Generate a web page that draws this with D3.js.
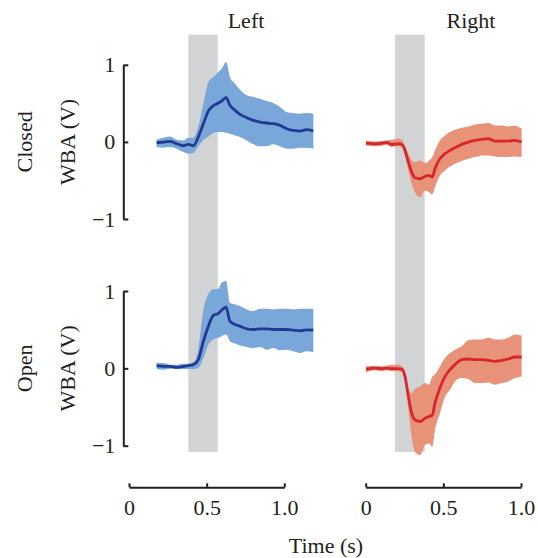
<!DOCTYPE html>
<html>
<head>
<meta charset="utf-8">
<script src="https://cdn.jsdelivr.net/npm/d3@7"></script>
<style>
  html, body { margin: 0; padding: 0; background: #fff; }
  svg { display: block; }
  text { font-family: "Liberation Serif", "Times New Roman", serif; fill: #231f20; }
</style>
</head>
<body>
<svg id="chart" width="538" height="558"></svg>
<script>
// ---------------- DATA ----------------
const columns = ["Left", "Right"];
const rows = ["Closed", "Open"];
const yTicks = [-1, 0, 1];
const xTicks = [0, 0.5, 1.0];
const xTickLabels = ["0", "0.5", "1.0"];
const stimLeft = [0.382, 0.571];
const stimRight = [0.189, 0.380];
const shadeRange = [1.39, -1.08];

const timeLeft = [0.178, 0.221, 0.264, 0.307, 0.350, 0.382, 0.414, 0.446, 0.479, 0.511, 0.543, 0.575, 0.597, 0.625, 0.650, 0.683, 0.715, 0.758, 0.801, 0.844, 0.886, 0.929, 0.972, 1.015, 1.058, 1.101, 1.144, 1.187];
const timeRight = [0.002, 0.060, 0.103, 0.135, 0.167, 0.210, 0.232, 0.253, 0.275, 0.296, 0.317, 0.350, 0.382, 0.408, 0.429, 0.446, 0.478, 0.511, 0.543, 0.575, 0.618, 0.661, 0.704, 0.747, 0.790, 0.833, 0.876, 0.918, 0.961, 1.004];

// Closed / Left
const closedLeftMean  = [-0.011, -0.002, 0.006, -0.024, -0.05, -0.032, -0.05, 0.063, 0.236, 0.40, 0.469, 0.504, 0.530, 0.574, 0.474, 0.409, 0.357, 0.314, 0.279, 0.258, 0.245, 0.236, 0.214, 0.171, 0.149, 0.141, 0.158, 0.141];
const closedLeftUpper = [0.032, 0.054, 0.071, 0.028, 0.019, 0.054, 0.054, 0.193, 0.496, 0.777, 0.842, 0.907, 0.950, 1.037, 0.842, 0.755, 0.677, 0.604, 0.582, 0.561, 0.530, 0.504, 0.452, 0.387, 0.374, 0.366, 0.374, 0.366];
const closedLeftLower = [-0.067, -0.076, -0.067, -0.089, -0.132, -0.154, -0.145, -0.058, 0.028, 0.071, 0.115, 0.128, 0.128, 0.119, 0.106, 0.084, 0.063, 0.019, -0.032, -0.058, -0.058, -0.032, -0.058, -0.089, -0.089, -0.076, -0.076, -0.089];

// Closed / Right
const closedRightMean  = [-0.015, -0.024, -0.019, -0.006, -0.032, -0.024, -0.032, -0.11, -0.262, -0.392, -0.465, -0.478, -0.448, -0.435, -0.457, -0.348, -0.219, -0.154, -0.11, -0.076, -0.032, -0.002, 0.019, 0.032, 0.041, 0.011, 0.011, 0.011, 0.019, -0.002];
const closedRightUpper = [0.019, 0.006, 0.011, 0.019, 0.028, 0.041, 0.028, -0.045, -0.154, -0.24, -0.262, -0.24, -0.275, -0.24, -0.197, -0.11, 0.019, 0.084, 0.128, 0.158, 0.184, 0.201, 0.227, 0.236, 0.245, 0.214, 0.214, 0.201, 0.210, 0.171];
const closedRightLower = [-0.045, -0.058, -0.05, -0.041, -0.067, -0.058, -0.067, -0.175, -0.37, -0.543, -0.652, -0.717, -0.63, -0.652, -0.682, -0.587, -0.435, -0.37, -0.318, -0.284, -0.249, -0.219, -0.197, -0.175, -0.175, -0.188, -0.197, -0.197, -0.188, -0.197];

// Open / Left
const openLeftMean  = [0.035, 0.026, 0.026, 0.013, 0.026, 0.035, 0.048, 0.113, 0.351, 0.545, 0.684, 0.710, 0.753, 0.792, 0.610, 0.567, 0.545, 0.511, 0.502, 0.511, 0.511, 0.502, 0.502, 0.502, 0.494, 0.485, 0.498, 0.494];
const openLeftUpper = [0.069, 0.069, 0.048, 0.048, 0.061, 0.061, 0.078, 0.242, 0.762, 0.957, 1.022, 1.030, 1.108, 1.13, 0.848, 0.827, 0.805, 0.762, 0.740, 0.771, 0.771, 0.762, 0.771, 0.771, 0.762, 0.771, 0.771, 0.771];
const openLeftLower = [-0.009, -0.017, -0.004, -0.004, -0.009, -0.009, -0.009, 0.004, 0.134, 0.307, 0.372, 0.394, 0.416, 0.437, 0.351, 0.320, 0.294, 0.277, 0.264, 0.277, 0.242, 0.264, 0.234, 0.242, 0.221, 0.199, 0.221, 0.208];

// Open / Right
const openRightMean  = [-0.009, 0.004, -0.004, 0.004, -0.004, -0.004, -0.009, -0.104, -0.364, -0.580, -0.667, -0.688, -0.645, -0.623, -0.602, -0.450, -0.255, -0.104, -0.017, 0.048, 0.113, 0.121, 0.113, 0.113, 0.104, 0.091, 0.104, 0.121, 0.147, 0.147];
const openRightUpper = [0.026, 0.035, 0.026, 0.035, 0.048, 0.048, 0.026, -0.039, -0.277, -0.320, -0.268, -0.234, -0.190, -0.212, -0.104, -0.082, 0.026, 0.134, 0.199, 0.242, 0.286, 0.364, 0.372, 0.372, 0.394, 0.372, 0.372, 0.394, 0.437, 0.424];
const openRightLower = [-0.052, -0.026, -0.039, -0.026, -0.039, -0.039, -0.052, -0.147, -0.537, -0.883, -1.078, -1.121, -0.991, -0.970, -1.013, -0.797, -0.580, -0.364, -0.277, -0.169, -0.126, -0.139, -0.190, -0.190, -0.182, -0.212, -0.190, -0.169, -0.126, -0.104];

// ---------------- LAYOUT ----------------
const svg = d3.select("#chart");
const FONT = 22;
const ink = "#231f20";
const colors = {
  Left:  { band: "#7aa7da", line: "#1f3a93" },
  Right: { band: "#e8927a", line: "#d7262b" }
};

const xScales = {
  Left:  d3.scaleLinear().domain([0, 1]).range([129, 284.3]),
  Right: d3.scaleLinear().domain([0, 1]).range([365.7, 521])
};
const yScales = {
  Closed: d3.scaleLinear().domain([-1, 1]).range([219, 64.8]),
  Open:   d3.scaleLinear().domain([-1, 1]).range([445.7, 291])
};
const stims = { Left: stimLeft, Right: stimRight };
const times = { Left: timeLeft, Right: timeRight };

const series = {
  "Closed|Left":  { mean: closedLeftMean,  upper: closedLeftUpper,  lower: closedLeftLower },
  "Closed|Right": { mean: closedRightMean, upper: closedRightUpper, lower: closedRightLower },
  "Open|Left":    { mean: openLeftMean,    upper: openLeftUpper,    lower: openLeftLower },
  "Open|Right":   { mean: openRightMean,   upper: openRightUpper,   lower: openRightLower }
};

// stimulus shading (spans both rows)
columns.forEach(col => {
  const x = xScales[col];
  const s = stims[col];
  const yTop = yScales.Closed(shadeRange[0]);
  const yBot = yScales.Open(shadeRange[1]);
  svg.append("rect")
    .attr("x", x(s[0])).attr("width", x(s[1]) - x(s[0]))
    .attr("y", yTop).attr("height", yBot - yTop)
    .attr("fill", "#d1d3d4");
});

// bands and means
rows.forEach(row => {
  columns.forEach(col => {
    const d = series[row + "|" + col];
    const t = times[col];
    const x = xScales[col], y = yScales[row];
    const pts = t.map((tt, i) => ({ t: tt, m: d.mean[i], u: d.upper[i], l: d.lower[i] }));
    svg.append("path")
      .datum(pts)
      .attr("fill", colors[col].band)
      .attr("d", d3.area().curve(d3.curveMonotoneX).x(p => x(p.t)).y0(p => y(p.l)).y1(p => y(p.u)));
    svg.append("path")
      .datum(pts)
      .attr("fill", "none")
      .attr("stroke", colors[col].line)
      .attr("stroke-width", 2.8)
      .attr("stroke-linejoin", "round")
      .attr("d", d3.line().curve(d3.curveMonotoneX).x(p => x(p.t)).y(p => y(p.m)));
  });
});

function styleAxis(g) {
  g.attr("font-family", null).attr("font-size", null);
  g.select(".domain").attr("stroke", ink).attr("stroke-width", 2);
  g.selectAll(".tick line").attr("stroke", ink).attr("stroke-width", 2);
  g.selectAll(".tick text").attr("fill", ink)
    .style("font-family", '"Liberation Serif", "Times New Roman", serif')
    .style("font-size", FONT + "px");
}

// y axes
rows.forEach(row => {
  const g = svg.append("g")
    .attr("transform", "translate(123.3,0)")
    .call(d3.axisLeft(yScales[row]).tickValues(yTicks).tickSizeInner(-5).tickSizeOuter(0).tickPadding(8)
      .tickFormat(d3.format("")));
  styleAxis(g);
});

// x axes
columns.forEach(col => {
  const g = svg.append("g")
    .attr("transform", "translate(0,487.3)")
    .call(d3.axisBottom(xScales[col]).tickValues(xTicks).tickSizeInner(-4).tickSizeOuter(0).tickPadding(12)
      .tickFormat((v, i) => xTickLabels[i]));
  styleAxis(g);
});

// column titles
columns.forEach(col => {
  svg.append("text")
    .attr("x", col === "Left" ? 246 : 471)
    .attr("y", 28)
    .attr("text-anchor", "middle")
    .style("font-size", FONT + "px")
    .text(col);
});

// row labels and y titles
rows.forEach(row => {
  const yc = yScales[row](0);
  svg.append("text")
    .attr("transform", `translate(32,${yc}) rotate(-90)`)
    .attr("text-anchor", "middle")
    .style("font-size", FONT + "px")
    .text(row);
  svg.append("text")
    .attr("transform", `translate(75,${yc}) rotate(-90)`)
    .attr("text-anchor", "middle")
    .style("font-size", FONT + "px")
    .text("WBA (V)");
});

// x title
svg.append("text")
  .attr("x", 326).attr("y", 553)
  .attr("text-anchor", "middle")
  .style("font-size", FONT + "px")
  .text("Time (s)");
</script>
</body>
</html>
